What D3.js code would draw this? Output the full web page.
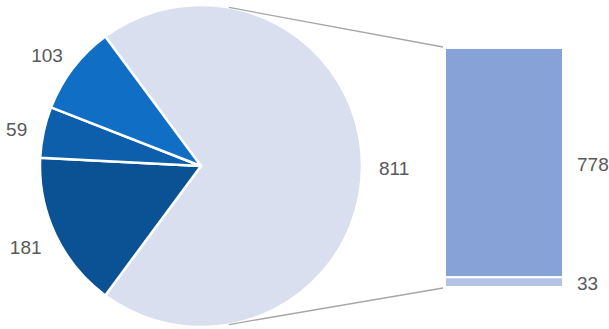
<!DOCTYPE html>
<html>
<head>
<meta charset="utf-8">
<script src="https://cdn.jsdelivr.net/npm/d3@7"></script>
<style>
  body { margin: 0; background: #fff; }
  text { font-family: "Liberation Sans", Arial, sans-serif; font-size: 19px; fill: #595959; }
</style>
</head>
<body>
<div id="chart"></div>
<script>
// pie slices (the "811" slice is split out into the bar)
const pieLabels = ['811', '181', '59', '103'];
const pieValues = [811, 181, 59, 103];
const pieColors = ['#dadfef', '#0a5294', '#0d5fab', '#106ec5'];

// stacked bar, top to bottom
const barLabels = ['778', '33'];
const barValues = [778, 33];
const barColors = ['#86a2d6', '#b4c3e5'];

const width = 609;
const height = 329;
const cx = 201, cy = 166, radius = 161;

const svg = d3.select('#chart')
  .append('svg')
  .attr('width', width)
  .attr('height', height);

// rotate so the first slice is centered on 3 o'clock
const total = d3.sum(pieValues);
const firstSpan = pieValues[0] / total * 2 * Math.PI;
const start = Math.PI / 2 - firstSpan / 2;

const pie = d3.pie()
  .sort(null)
  .startAngle(start)
  .endAngle(start + 2 * Math.PI);

const arcs = pie(pieValues);

const arc = d3.arc().innerRadius(0).outerRadius(radius);

const g = svg.append('g')
  .attr('transform', `translate(${cx}, ${cy})`);

// connector lines from the big slice to the bar
const barX = 445, barW = 118, barTop = 48, barBottom = 287;

const y = d3.scaleLinear()
  .domain([0, d3.sum(barValues)])
  .range([barTop, barBottom]);

const pt = a => [cx + radius * Math.sin(a), cy - radius * Math.cos(a)];
const p1 = pt(10 * Math.PI / 180);
const p2 = pt(170 * Math.PI / 180);

svg.append('line')
  .attr('x1', p1[0]).attr('y1', p1[1])
  .attr('x2', barX - 2).attr('y2', barTop - 1)
  .attr('stroke', '#a6a6a6').attr('stroke-width', 1.3);

svg.append('line')
  .attr('x1', p2[0]).attr('y1', p2[1])
  .attr('x2', barX - 2).attr('y2', barBottom + 1)
  .attr('stroke', '#a6a6a6').attr('stroke-width', 1.3);

g.selectAll('path')
  .data(arcs)
  .enter()
  .append('path')
  .attr('d', arc)
  .attr('fill', (d, i) => pieColors[i])
  .attr('stroke', '#fff')
  .attr('stroke-width', 2.5)
  .attr('stroke-linejoin', 'round');

// outside labels: push the text box out so it sits just past the rim
const labelR = 178;
g.selectAll('text')
  .data(arcs)
  .enter()
  .append('text')
  .attr('text-anchor', 'middle')
  .attr('dy', '0.35em')
  .text((d, i) => pieLabels[i])
  .attr('transform', function (d) {
    const a = (d.startAngle + d.endAngle) / 2;
    const dx = Math.sin(a), dy = -Math.cos(a);
    const hw = this.getComputedTextLength() / 2;
    const hh = 7;
    return `translate(${labelR * dx + hw * dx}, ${labelR * dy + hh * dy + 2})`;
  });

// stacked bar
const stack = d3.cumsum(barValues);
const segs = barValues.map((v, i) => ({ v, y0: stack[i] - v, y1: stack[i] }));

svg.append('g')
  .selectAll('rect')
  .data(segs)
  .enter()
  .append('rect')
  .attr('x', barX)
  .attr('y', d => y(d.y0))
  .attr('width', barW)
  .attr('height', d => y(d.y1) - y(d.y0))
  .attr('fill', (d, i) => barColors[i])
  .attr('stroke', '#fff')
  .attr('stroke-width', 2);

svg.append('g')
  .selectAll('text')
  .data(segs)
  .enter()
  .append('text')
  .attr('x', barX + barW + 14)
  .attr('y', d => (y(d.y0) + y(d.y1)) / 2 + 1.5)
  .attr('dy', '0.35em')
  .text((d, i) => barLabels[i]);
</script>
</body>
</html>
